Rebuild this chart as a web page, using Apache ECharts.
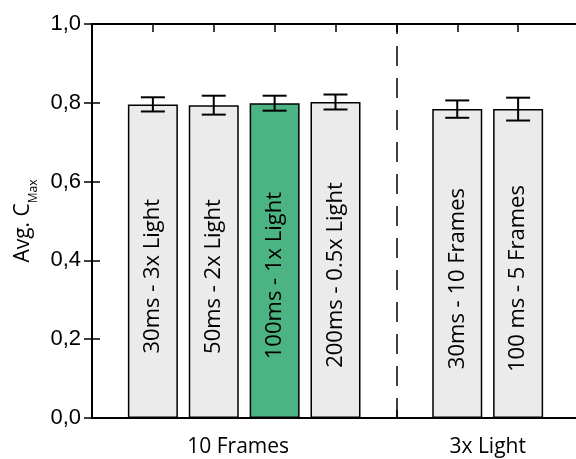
<!DOCTYPE html>
<html>
<head>
<meta charset="utf-8">
<script src="https://cdn.jsdelivr.net/npm/echarts@6/dist/echarts.min.js"></script>
<style>
  html, body { margin: 0; padding: 0; background: #fff; }
  #chart { width: 576px; height: 459px; }
</style>
</head>
<body>
<div id="chart"></div>
<script>
// Bar captions (drawn inside each bar)
const barLabels = ['30ms - 3x Light', '50ms - 2x Light', '100ms - 1x Light', '200ms - 0.5x Light', '30ms - 10 Frames', '100 ms - 5 Frames'];
// Group each bar belongs to
const groupNames = ['10 Frames', '3x Light'];
const barGroup = [0, 0, 0, 0, 1, 1];
// Average C_Max and its error
const meanCMax = [0.796, 0.794, 0.799, 0.802, 0.784, 0.784];
const errCMax = [0.018, 0.024, 0.019, 0.019, 0.022, 0.029];
// Reference configuration (highlighted bar)
const referenceBar = 2;

const GRAY = '#ebebeb';
const GREEN = '#4bb482';
const LABEL_FONT = '"Open Sans", "Noto Sans", sans-serif';
const NUM_FONT = '"Liberation Sans", Arial, sans-serif';

// One empty slot separates the groups; slot 0 and the last slot are padding.
const slots = barLabels.map((_, i) => i + 1 + barGroup[i]);
const separatorSlot = slots[barGroup.indexOf(1)] - 1;
const slotMax = slots[slots.length - 1] + 1;
const groupCenters = groupNames.map((_, g) => {
  const s = slots.filter((_, i) => barGroup[i] === g);
  return (s[0] + s[s.length - 1]) / 2;
});

const chart = echarts.init(document.getElementById('chart'), null, { renderer: 'canvas' });

const frameLine = { show: true, lineStyle: { color: '#000', width: 2 } };
const innerTicks = { show: true, inside: true, length: 8, lineStyle: { color: '#000', width: 1.5 } };

const option = {
  animation: false,
  grid: { left: 92, right: -3, top: 24, bottom: 41, containLabel: false, outerBoundsMode: 'none' },
  xAxis: [
    { type: 'value', position: 'bottom', min: 0, max: slotMax, interval: 1,
      axisLine: frameLine, axisTick: innerTicks, axisLabel: { show: false }, splitLine: { show: false } },
    { type: 'value', position: 'bottom', min: 0, max: slotMax, interval: 0.5,
      axisLine: { show: false }, axisTick: { show: false }, splitLine: { show: false },
      axisLabel: {
        show: true, margin: 19, color: '#000', fontFamily: LABEL_FONT, fontSize: 21,
        formatter: v => {
          const g = groupCenters.findIndex(c => Math.abs(c - v) < 1e-6);
          return g < 0 ? '' : (g === 0 ? '{a|' + groupNames[g] + '}' : groupNames[g]);
        },
        rich: { a: { fontFamily: LABEL_FONT, fontSize: 21, color: '#000', padding: [0, 12, 0, 0] } }
      } },
    { type: 'value', position: 'top', min: 0, max: slotMax, interval: 1,
      axisLine: frameLine, axisTick: innerTicks, axisLabel: { show: false }, splitLine: { show: false } }
  ],
  yAxis: [
    { type: 'value', position: 'left', min: 0, max: 1, interval: 0.2,
      axisLine: frameLine, axisTick: innerTicks, splitLine: { show: false },
      axisLabel: { color: '#000', fontFamily: NUM_FONT, fontSize: 22, margin: 11,
        formatter: v => v.toFixed(1).replace('.', ',') },
      name: '{a|Avg. C}{b|Max}', nameLocation: 'middle', nameRotate: 90, nameGap: 58,
      nameTextStyle: {
        rich: {
          a: { fontFamily: LABEL_FONT, fontSize: 21, color: '#000' },
          b: { fontFamily: LABEL_FONT, fontSize: 12, color: '#000', verticalAlign: 'bottom', padding: [0, 0, -6, 0] }
        }
      } },
    { type: 'value', position: 'right', min: 0, max: 1, interval: 0.2,
      axisLine: frameLine, axisTick: innerTicks, axisLabel: { show: false }, splitLine: { show: false } }
  ],
  series: [
    {
      type: 'bar', xAxisIndex: 0, yAxisIndex: 0, barWidth: 50,
      data: meanCMax.map((m, i) => ({
        value: [slots[i], m],
        itemStyle: { color: i === referenceBar ? GREEN : GRAY, borderColor: '#000', borderWidth: 1.5 }
      })),
      label: {
        show: true, position: 'inside', rotate: 90, offset: [-15, 0],
        align: 'center', verticalAlign: 'middle',
        fontFamily: LABEL_FONT, fontSize: 22, color: '#000',
        formatter: p => barLabels[p.dataIndex]
      },
      markLine: {
        silent: true, symbol: 'none',
        label: { show: false },
        lineStyle: { color: '#000', width: 1.5, type: [20, 12] },
        data: [{ xAxis: separatorSlot }]
      },
      z: 2
    },
    {
      type: 'custom', xAxisIndex: 0, yAxisIndex: 0, z: 5,
      data: meanCMax.map((m, i) => [slots[i], m, errCMax[i]]),
      renderItem: (params, api) => {
        const x = api.value(0), y = api.value(1), e = api.value(2);
        const hi = api.coord([x, y + e]);
        const lo = api.coord([x, y - e]);
        const half = 12;
        const st = { stroke: '#000', lineWidth: 2 };
        return {
          type: 'group',
          children: [
            { type: 'line', shape: { x1: hi[0], y1: hi[1], x2: lo[0], y2: lo[1] }, style: st },
            { type: 'line', shape: { x1: hi[0] - half, y1: hi[1], x2: hi[0] + half, y2: hi[1] }, style: st },
            { type: 'line', shape: { x1: lo[0] - half, y1: lo[1], x2: lo[0] + half, y2: lo[1] }, style: st }
          ]
        };
      }
    }
  ]
};

chart.setOption(option);
</script>
</body>
</html>
